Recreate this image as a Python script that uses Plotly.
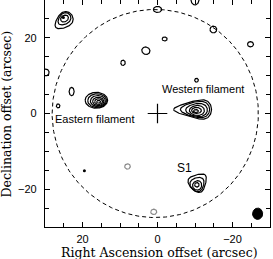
import numpy as np
import plotly.graph_objects as go

# ---------------- data ----------------
# black contour loops: centre, half-width toward +RA / -RA, half-height, rotation (deg), taper
cont_cx = [24.9, 24.8, 24.8,
           -10.0, 0.0, -14.9, -24.8, -1.9, 3.1, 9.2, 29.8, -10.4, 22.9, 26.5,
           16.3, 16.1, 15.9, 15.8, 15.7, 15.7,
           -10.6, -10.6, -10.6, -10.5, -10.4, -10.25,
           -10.7, -10.6, -10.6, -10.5]
cont_cy = [24.6, 25.0, 25.1,
           30.2, 27.5, 22.2, 18.3, 19.7, 16.6, 13.4, 10.85, 8.8, 5.8, 2.0,
           3.5, 3.4, 3.3, 3.2, 3.15, 3.1,
           1.06, 1.06, 0.93, 0.8, 0.8, 0.66,
           -18.3, -18.7, -19.0, -18.85]
cont_ap = [2.9, 2.0, 1.1,
           1.1, 1.1, 0.9, 0.8, 0.67, 1.1, 0.6, 0.9, 0.5, 0.67, 0.48,
           3.0, 2.5, 2.0, 1.5, 1.05, 0.55,
           6.3, 4.5, 3.1, 2.0, 1.3, 0.65,
           2.9, 2.1, 1.3, 0.6]
cont_am = [2.5, 1.8, 1.1,
           1.1, 1.1, 0.9, 0.8, 0.67, 1.1, 0.6, 0.9, 0.5, 0.67, 0.48,
           3.0, 2.5, 2.0, 1.5, 1.05, 0.55,
           3.8, 3.3, 2.7, 2.0, 1.3, 0.65,
           2.2, 1.8, 1.25, 0.6]
cont_b = [1.9, 1.4, 0.85,
          1.5, 0.8, 0.9, 0.7, 0.53, 0.97, 0.7, 0.9, 0.5, 1.1, 0.53,
          2.1, 1.8, 1.45, 1.1, 0.75, 0.35,
          2.38, 2.1, 1.72, 1.32, 0.8, 0.4,
          2.3, 1.8, 1.2, 0.6]
cont_ang = [-40, -40, -30,
            0, 0, 0, 0, 0, 20, 0, 0, 0, 0, 0,
            0, 0, 0, 0, 0, 0,
            0, 0, 0, 0, 0, 0,
            135, 135, 120, 0]
cont_taper = [0.25, 0.15, 0.0,
              0, 0, 0, 0, 0, 0, 0, 0, 0, 0, 0,
              0, 0, 0, 0, 0, 0,
              0.45, 0.3, 0.2, 0.1, 0.0, 0.0,
              0.4, 0.25, 0.1, 0.0]

# grey (negative) contours
neg_cx = [8.0, 1.0]
neg_cy = [-14.0, -26.0]
neg_a = [0.75, 0.8]
neg_b = [0.7, 0.7]

# tiny filled peaks
dot_x = [25.1, 19.5]
dot_y = [25.4, -15.1]

# beam
beam_x, beam_y, beam_a, beam_b = -26.7, -26.5, 1.35, 1.5

# primary beam circle
circ_x, circ_y, circ_r = 0.6, 0.0, 27.5

labels = ["Western filament", "Eastern filament", "S1"]
label_x = [-12.1, 16.7, -7.2]
label_y = [6.6, -1.46, -14.3]

x_ticks = [20, 0, -20]
y_ticks = [20, 0, -20]


def loop(cx, cy, ap, am, b, ang=0.0, k=0.0, n=120):
    t = np.linspace(0, 2 * np.pi, n)
    c, s = np.cos(t), np.sin(t)
    u = np.where(c >= 0, ap, am) * c
    v = b * s * (1 - k * c)
    A = np.deg2rad(ang)
    x = cx + u * np.cos(A) - v * np.sin(A)
    y = cy + u * np.sin(A) + v * np.cos(A)
    return list(x) + [None], list(y) + [None]


fig = go.Figure()

# dashed circle
xs, ys = loop(circ_x, circ_y, circ_r, circ_r, circ_r, n=400)
fig.add_trace(go.Scatter(x=xs, y=ys, mode="lines",
                         line=dict(color="black", width=1, dash="4px,3px"),
                         hoverinfo="skip", showlegend=False))

# black contours
X, Y = [], []
for i in range(len(cont_cx)):
    xx, yy = loop(cont_cx[i], cont_cy[i], cont_ap[i], cont_am[i], cont_b[i],
                  cont_ang[i], cont_taper[i])
    X += xx
    Y += yy
fig.add_trace(go.Scatter(x=X, y=Y, mode="lines", line=dict(color="black", width=1.2),
                         showlegend=False, hoverinfo="skip"))

# grey contours
X, Y = [], []
for i in range(len(neg_cx)):
    xx, yy = loop(neg_cx[i], neg_cy[i], neg_a[i], neg_a[i], neg_b[i])
    X += xx
    Y += yy
fig.add_trace(go.Scatter(x=X, y=Y, mode="lines", line=dict(color="#8a8a8a", width=1.2),
                         showlegend=False, hoverinfo="skip"))

# small dots
fig.add_trace(go.Scatter(x=dot_x, y=dot_y, mode="markers",
                         marker=dict(color="black", size=3),
                         showlegend=False, hoverinfo="skip"))

# beam
xs, ys = loop(beam_x, beam_y, beam_a, beam_a, beam_b)
fig.add_trace(go.Scatter(x=xs[:-1], y=ys[:-1], mode="lines", fill="toself",
                         fillcolor="black", line=dict(color="black", width=1),
                         showlegend=False, hoverinfo="skip"))

# cross at phase centre
fig.add_trace(go.Scatter(x=[0], y=[0], mode="markers",
                         marker=dict(symbol="cross-thin", size=14,
                                     line=dict(color="black", width=1.2)),
                         showlegend=False, hoverinfo="skip"))

for t, x, y in zip(labels, label_x, label_y):
    fig.add_annotation(x=x, y=y, text=t, showarrow=False,
                       font=dict(family="Liberation Sans, Arial", size=11 if t != "S1" else 12,
                                 color="black"))

fig.add_annotation(xref="paper", yref="paper", x=0.51, y=-0.112,
                   text="Right Ascension offset (arcsec)", showarrow=False,
                   font=dict(family="DejaVu Serif", size=12.5, color="black"),
                   xanchor="center", yanchor="middle")
fig.add_annotation(xref="paper", yref="paper", x=-0.169, y=0.5,
                   text="Declination offset (arcsec)", showarrow=False, textangle=-90,
                   font=dict(family="DejaVu Serif", size=12.5, color="black"),
                   xanchor="center", yanchor="middle")

axis_common = dict(showline=True, linecolor="black", linewidth=1.2, mirror="ticks",
                   ticks="inside", ticklen=5, tickwidth=1, tickcolor="black",
                   showgrid=False, zeroline=False,
                   tickfont=dict(family="Liberation Sans, Arial", size=11, color="black"),
                   minor=dict(ticks="inside", dtick=5, tick0=0, ticklen=4,
                              tickcolor="black", tickwidth=1, showgrid=False))

fig.update_xaxes(range=[30, -30], tickvals=x_ticks, ticktext=["20", "0", "\u221220"],
                 ticklabelstandoff=2, **axis_common)
fig.update_yaxes(range=[-30, 30], tickvals=y_ticks, ticktext=["20", "0", "\u221220"],
                 ticklabelstandoff=5, **axis_common)

fig.update_layout(width=273, height=259, margin=dict(l=45, r=3, t=0, b=32),
                  plot_bgcolor="white", paper_bgcolor="white", showlegend=False)

fig.write_html("out.html", config={"displayModeBar": False},
               post_script="document.body.style.margin='0';document.body.style.overflow='hidden';")
